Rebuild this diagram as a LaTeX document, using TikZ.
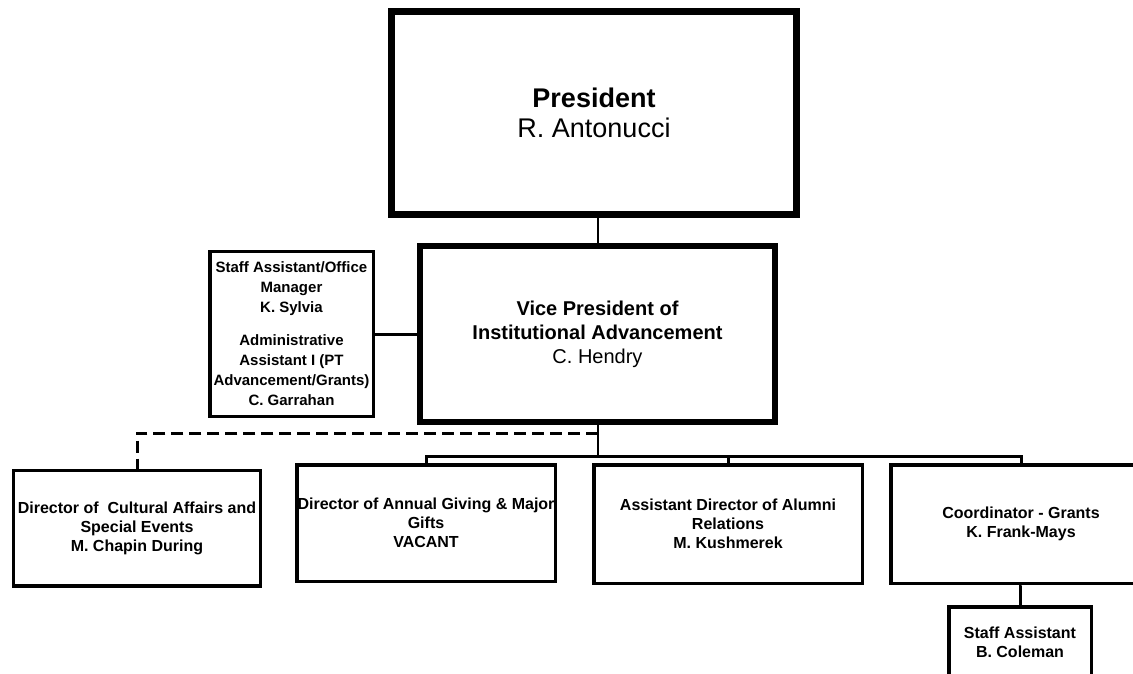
\documentclass[tikz,border=0pt]{standalone}
\usepackage{fontspec}
\setmainfont{Liberation Sans}
\begin{document}
\begin{tikzpicture}[x=1bp,y=-1bp,
  box/.style={draw=black, rectangle, align=center, inner sep=0pt, line width=3.5bp},
  chief/.style={box, line width=7bp, font=\fontsize{27bp}{30bp}\selectfont},
  vpbox/.style={box, line width=6bp, font=\fontsize{20bp}{24bp}\selectfont},
  unit/.style={box, font=\fontsize{16bp}{19bp}\selectfont\bfseries},
  staffbox/.style={box, font=\fontsize{15bp}{20bp}\selectfont\bfseries},
  link/.style={line width=3bp},
  thinlink/.style={line width=2bp},
  dashlink/.style={line width=3bp, dash pattern=on 12bp off 6bp}
]
\useasboundingbox (0,0) rectangle (1133,674);

% top of the chart
\node[chief, minimum width=405bp, minimum height=203bp] (pres) at (594,113)
  {\textbf{President}\\R. Antonucci};
\node[vpbox, minimum width=355bp, minimum height=176bp] (vp) at (597.5,334)
  {\textbf{Vice President of}\\\textbf{Institutional Advancement}\\C. Hendry};
\node[staffbox, minimum width=163.5bp, minimum height=164.5bp] (staff) at (291.5,334)
  {Staff Assistant/Office\\Manager\\K. Sylvia\\[13bp]Administrative\\Assistant I (PT\\Advancement/Grants)\\C. Garrahan};

% reporting units
\node[unit, minimum width=246.5bp, minimum height=115.5bp] (cult) at (137,528)
  {Director of\ \ Cultural Affairs and\\Special Events\\M. Chapin During};
\node[unit, minimum width=258.5bp, minimum height=116.5bp] (giving) at (426,523)
  {Director of Annual Giving \& Major\\Gifts\\VACANT};
\node[unit, minimum width=268.5bp, minimum height=118.5bp] (alumni) at (728,524)
  {Assistant Director of Alumni\\Relations\\M. Kushmerek};
\node[unit, minimum width=260.5bp, minimum height=118.5bp] (grants) at (1021,524)
  {Coordinator - Grants\\K. Frank-Mays};
\node[unit, minimum width=142.5bp, minimum height=71.5bp] (sa) at (1020,642.5)
  {Staff Assistant\\B. Coleman};

% connectors
\coordinate (bus) at (597.5,456);
\coordinate (dash) at (597.5,433);
\draw[thinlink] (vp.north) -- (vp.north |- pres.south);
\draw[link] (staff.east) -- (vp.west);
\draw[thinlink] (vp.south) -- (bus);
\draw[link] (giving.north) -- (giving.north |- bus) -- (grants.north |- bus) -- (grants.north);
\draw[link] (alumni.north) -- (alumni.north |- bus);
\draw[dashlink] (dash) -| (cult.north);
\draw[link] (grants.south) -- (grants.south -| sa.north) -- (sa.north);
\end{tikzpicture}
\end{document}
